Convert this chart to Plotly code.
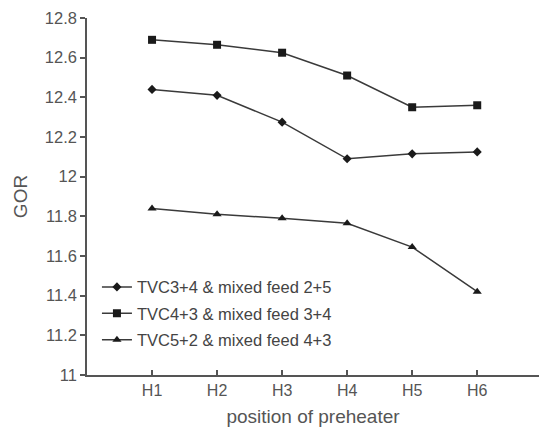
import plotly.graph_objects as go

categories = ["H1", "H2", "H3", "H4", "H5", "H6"]
series_names = [
    "TVC3+4 & mixed feed 2+5",
    "TVC4+3 & mixed feed 3+4",
    "TVC5+2 & mixed feed 4+3",
]
gor_tvc34 = [12.44, 12.41, 12.275, 12.09, 12.115, 12.125]
gor_tvc43 = [12.69, 12.665, 12.625, 12.51, 12.35, 12.36]
gor_tvc52 = [11.84, 11.81, 11.79, 11.765, 11.645, 11.42]
y_ticks = [11, 11.2, 11.4, 11.6, 11.8, 12, 12.2, 12.4, 12.6, 12.8]
y_tick_labels = ["11", "11.2", "11.4", "11.6", "11.8", "12", "12.2", "12.4", "12.6", "12.8"]

xpos = list(range(1, len(categories) + 1))
symbols = ["diamond", "square", "triangle-up"]
sizes = [7, 8, 8]
data = [gor_tvc34, gor_tvc43, gor_tvc52]

fig = go.Figure()
for i, (name, ys) in enumerate(zip(series_names, data)):
    fig.add_trace(go.Scatter(
        x=xpos, y=ys, name=name, mode="lines+markers",
        line=dict(color="#3a3a3a", width=1.5),
        marker=dict(symbol=symbols[i], size=sizes[i], color="#1a1a1a"),
        legendgroup=f"g{i}",
    ))

axis_color = "#555555"
font = dict(family="Liberation Sans, Arial, sans-serif", size=16, color="#555555")
fig.update_layout(
    width=539, height=429,
    margin=dict(l=87, r=0, t=18, b=54, autoexpand=False),
    paper_bgcolor="white", plot_bgcolor="white",
    font=font,
    showlegend=True,
    legend=dict(x=0.022, y=0.295, xanchor="left", yanchor="top",
                bgcolor="rgba(0,0,0,0)", font=dict(size=16.5, color="#444444"),
                tracegroupgap=2),
    xaxis=dict(
        range=[0, 6.95], tickvals=xpos, ticktext=categories,
        showline=True, linecolor=axis_color, linewidth=1.5,
        ticks="inside", ticklen=5, tickcolor=axis_color, tickwidth=1.5,
        showgrid=False, zeroline=False, automargin=False,
        title=dict(text="position of preheater", standoff=12),
        tickfont=dict(size=16),
    ),
    yaxis=dict(
        range=[11, 12.8], tickvals=y_ticks, ticktext=y_tick_labels,
        showline=True, linecolor=axis_color, linewidth=1.5,
        ticks="outside", ticklen=5, tickcolor=axis_color, tickwidth=1.5,
        showgrid=False, zeroline=False, automargin=False,
        title=dict(text="GOR", standoff=12),
        tickfont=dict(size=16.5),
    ),
)
fig.write_html("out.html")
